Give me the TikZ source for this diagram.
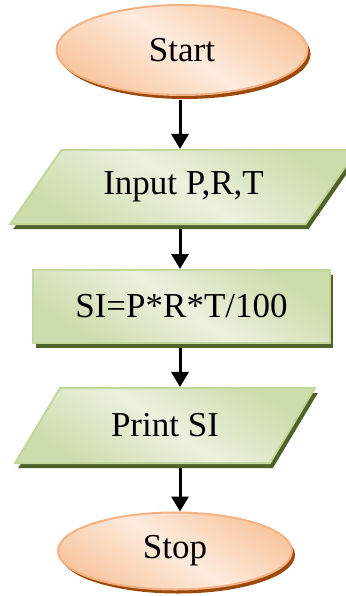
\documentclass[tikz,border=0pt]{standalone}
\usepackage{fontspec}
\setmainfont{Liberation Serif}
\usetikzlibrary{shapes.geometric,shadows,arrows.meta}

\definecolor{ovalline}{HTML}{F4B183}
\definecolor{ovallight}{HTML}{FDEBDD}
\definecolor{ovaldark}{HTML}{F8C7A0}
\definecolor{ovalshade}{HTML}{9C4A0C}
\definecolor{boxline}{HTML}{C3D69B}
\definecolor{boxlight}{HTML}{EBF1DE}
\definecolor{boxdark}{HTML}{CCDCAB}
\definecolor{boxshade}{HTML}{4F6228}

\tikzset{
  term/.style={ellipse, draw=ovalline, line width=2pt,
    top color=ovaldark, bottom color=ovaldark, middle color=ovallight, shading angle=-35,
    drop shadow={shadow xshift=3pt, shadow yshift=-4pt, fill=ovalshade, opacity=1}},
  io/.style={trapezium, trapezium stretches=true, draw=boxline, line width=2pt,
    top color=boxdark, bottom color=boxdark, middle color=boxlight, shading angle=-35,
    drop shadow={shadow xshift=3pt, shadow yshift=-5pt, fill=boxshade, opacity=1}},
  proc/.style={rectangle, draw=boxline, line width=2pt,
    top color=boxdark, bottom color=boxdark, middle color=boxlight, shading angle=-35,
    drop shadow={shadow xshift=3pt, shadow yshift=-5pt, fill=boxshade, opacity=1}},
  flow/.style={-{Triangle[width=17pt,length=15pt]}, line width=3pt, shorten <=4pt},
}

\begin{document}
\begin{tikzpicture}[x=1pt, y=-1pt, font=\fontsize{35}{42}\selectfont]
    \useasboundingbox (0,0) rectangle (345,596);
    \coordinate (axis) at (180,0);
    % flowchart
    \node [term, minimum width=251pt, minimum height=90pt] (start) at (182,50) {Start};
    \node [io, trapezium left angle=46.6, trapezium right angle=133.4,
           minimum width=347pt, minimum height=74pt] (input) at (183.5,187) {Input P,R,T};
    \node [proc, minimum width=297pt, minimum height=73pt] (calc) at (181.5,306.5) {SI=P*R*T/100};
    \node [io, trapezium left angle=50.9, trapezium right angle=129.1,
           minimum width=300pt, minimum height=75pt] (print) at (165,425.5) {Print SI};
    \node [term, minimum width=234pt, minimum height=77pt] (stop) at (175,551) {Stop};
    % arrows
    \draw [flow] (start.south -| axis) -- (input.north -| axis);
    \draw [flow] (input.south -| axis) -- (calc.north -| axis);
    \draw [flow] (calc.south -| axis) -- (print.north -| axis);
    \draw [flow] (print.south -| axis) -- (stop.north -| axis);
\end{tikzpicture}
\end{document}
